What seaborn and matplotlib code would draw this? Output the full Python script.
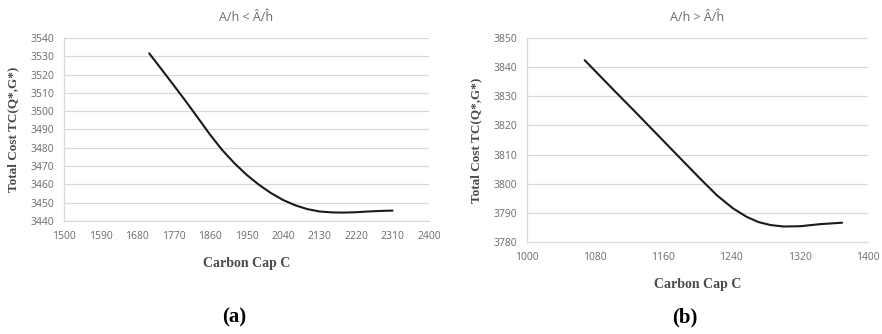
import numpy as np
import pandas as pd
import matplotlib
matplotlib.use("Agg")
import matplotlib.pyplot as plt
import seaborn as sns

# Panel (a): A/h < Â/ĥ
cap_a = [1710, 1740, 1770, 1800, 1830, 1860, 1890, 1920, 1950, 1980, 2010,
         2040, 2070, 2100, 2130, 2160, 2190, 2220, 2250, 2280, 2310]
cost_a = [3531.6, 3523.0, 3514.3, 3505.5, 3496.4, 3487.2, 3478.8, 3471.6,
          3465.3, 3459.9, 3455.3, 3451.5, 3448.6, 3446.5, 3445.2, 3444.7,
          3444.6, 3444.8, 3445.2, 3445.5, 3445.7]
xticks_a = [1500, 1590, 1680, 1770, 1860, 1950, 2040, 2130, 2220, 2310, 2400]
yticks_a = [3440, 3450, 3460, 3470, 3480, 3490, 3500, 3510, 3520, 3530, 3540]

# Panel (b): A/h > Â/ĥ
cap_b = [1068, 1086, 1105, 1125, 1145, 1164, 1184, 1203, 1223, 1242, 1258,
         1272, 1286, 1301, 1321, 1344, 1370]
cost_b = [3842.3, 3836.9, 3831.2, 3825.3, 3819.3, 3813.6, 3807.6, 3801.9,
          3796.1, 3791.6, 3788.7, 3786.9, 3785.9, 3785.4, 3785.5, 3786.2, 3786.7]
xticks_b = [1000, 1080, 1160, 1240, 1320, 1400]
yticks_b = [3780, 3790, 3800, 3810, 3820, 3830, 3840, 3850]

titles = ["A/h < \u00c2/\u0125", "A/h > \u00c2/\u0125"]
tags = ["(a)", "(b)"]

sns.set_style("white")
plt.rcParams['font.family'] = ['Open Sans', 'DejaVu Sans']

fig = plt.figure(figsize=(8.82, 3.34), dpi=100)
ax_a = fig.add_axes([0.0726, 0.3383, 0.4138, 0.548])
ax_b = fig.add_axes([0.5972, 0.2746, 0.3866, 0.6125])

panels = [
    (ax_a, cap_a, cost_a, xticks_a, yticks_a),
    (ax_b, cap_b, cost_b, xticks_b, yticks_b),
]

grid_c = "#d9d9d9"
for i, (ax, xs, ys, xt, yt) in enumerate(panels):
    df = pd.DataFrame({"cap": xs, "cost": ys})
    sns.lineplot(data=df, x="cap", y="cost", ax=ax, color="#1a1a1a", linewidth=1.5)
    ax.lines[-1].set_solid_joinstyle("round")
    ax.set_xlim(xt[0], xt[-1])
    ax.set_ylim(yt[0], yt[-1])
    ax.set_xticks(xt)
    ax.set_yticks(yt)
    ax.yaxis.grid(True, color=grid_c, linewidth=0.9)
    ax.xaxis.grid(False)
    ax.set_axisbelow(True)
    for side in ["top", "right"]:
        ax.spines[side].set_visible(False)
    for side in ["left", "bottom"]:
        ax.spines[side].set_color(grid_c)
        ax.spines[side].set_linewidth(0.9)
    ax.tick_params(axis="y", length=0, labelsize=7.5, labelcolor="#6b6b6b", pad=7)
    ax.tick_params(axis="x", length=0, labelsize=7.5, labelcolor="#6b6b6b", pad=7)
    ax.set_xlabel("Carbon Cap C", fontsize=10, fontweight="bold", color="#4a4a4a",
                  family="Liberation Serif", labelpad=11)
    ax.set_ylabel("Total Cost TC(Q*,G*)", fontsize=9.5, fontweight="bold", color="#4a4a4a",
                  family="Liberation Serif", labelpad=8)
    ax.set_title(titles[i], fontsize=9, color="#6b6b6b", pad=12)

fig.text(0.266, 0.05, tags[0], fontsize=15, fontweight="bold", family="Liberation Serif",
         ha="center", va="center", color="black")
fig.text(0.776, 0.048, tags[1], fontsize=15, fontweight="bold", family="Liberation Serif",
         ha="center", va="center", color="black")

fig.savefig("out.png", dpi=100, facecolor="white")
